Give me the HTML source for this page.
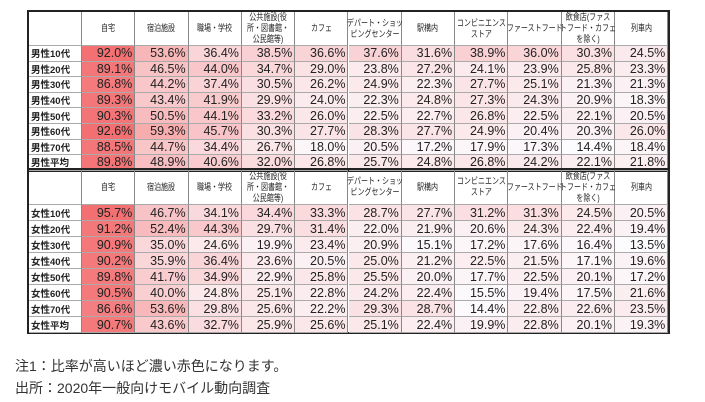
<!DOCTYPE html>
<html><head><meta charset="utf-8">
<style>
body{margin:0;width:705px;height:402px;background:#fff;font-family:"Liberation Sans","Noto Sans CJK JP",sans-serif;position:relative;overflow:hidden}
.tbl{position:absolute;left:27px;border:2px solid #222;box-sizing:border-box}
.cell{position:absolute;box-sizing:border-box;border-right:1px solid #888;border-bottom:1px solid #aaa;font-size:12.5px;color:#222}
.hd{font-size:9px;text-align:center;display:flex;align-items:center;justify-content:center;line-height:11px;color:#222;white-space:nowrap;overflow:visible}
.hd span{display:inline-block;transform:scaleX(0.78)}
.lab{font-weight:bold;font-size:9.5px;padding-left:2px;display:flex;align-items:center}
.val{text-align:right;padding-right:2px;display:flex;align-items:center;justify-content:flex-end}
.note{position:absolute;left:15px;font-size:14px;color:#333}
</style></head><body>
<div id="root"></div>
<div class="note" style="top:356px">注1：比率が高いほど濃い赤色になります。</div>
<div class="note" style="top:378px">出所：2020年一般向けモバイル動向調査</div>
<script>
const categories=["自宅","宿泊施設","職場・学校","公共施設(役<br>所・図書館・<br>公民館等)","カフェ","デパート・ショッ<br>ピングセンター","駅構内","コンビニエンス<br>ストア","ファーストフード","飲食店(ファス<br>トフード・カフェ<br>を除く)","列車内"];
const maleLabels=["男性10代","男性20代","男性30代","男性40代","男性50代","男性60代","男性70代","男性平均"];
const femaleLabels=["女性10代","女性20代","女性30代","女性40代","女性50代","女性60代","女性70代","女性平均"];
const maleValues=[
[92.0,53.6,36.4,38.5,36.6,37.6,31.6,38.9,36.0,30.3,24.5],
[89.1,46.5,44.0,34.7,29.0,23.8,27.2,24.1,23.9,25.8,23.3],
[86.8,44.2,37.4,30.5,26.2,24.9,22.3,27.7,25.1,21.3,21.3],
[89.3,43.4,41.9,29.9,24.0,22.3,24.8,27.3,24.3,20.9,18.3],
[90.3,50.5,44.1,33.2,26.0,22.5,22.7,26.8,22.5,22.1,20.5],
[92.6,59.3,45.7,30.3,27.7,28.3,27.7,24.9,20.4,20.3,26.0],
[88.5,44.7,34.4,26.7,18.0,20.5,17.2,17.9,17.3,14.4,18.4],
[89.8,48.9,40.6,32.0,26.8,25.7,24.8,26.8,24.2,22.1,21.8]];
const femaleValues=[
[95.7,46.7,34.1,34.4,33.3,28.7,27.7,31.2,31.3,24.5,20.5],
[91.2,52.4,44.3,29.7,31.4,22.0,21.9,20.6,24.3,22.4,19.4],
[90.9,35.0,24.6,19.9,23.4,20.9,15.1,17.2,17.6,16.4,13.5],
[90.2,35.9,36.4,23.6,20.5,25.0,21.2,22.5,21.5,17.1,19.6],
[89.8,41.7,34.9,22.9,25.8,25.5,20.0,17.7,22.5,20.1,17.2],
[90.5,40.0,24.8,25.1,22.8,24.2,22.4,15.5,19.4,17.5,21.6],
[86.6,53.6,29.8,25.6,22.2,29.3,28.7,14.4,22.8,22.6,23.5],
[90.7,43.6,32.7,25.9,25.6,25.1,22.4,19.9,22.8,20.1,19.3]];
const root=document.getElementById('root');
const labW=53,colW=53.3;
function color(v,mn,mx){const t=(v-mn)/(mx-mn);
 const r=Math.round(252+(243-252)*t),g=Math.round(252+(112-252)*t),b=Math.round(255+(114-255)*t);return `rgb(${r},${g},${b})`;}
function build(top,hh,rh,labels,vals,name){
 const t=document.createElement('div');t.className='tbl';
 
 
 const W=labW+colW*11+4,H=hh+rh*8+3;
 t.style.top=top+'px';t.style.width=W+'px';t.style.height=H+'px';
 root.appendChild(t);
 const flat=vals.flat();const mn=Math.min(...flat),mx=Math.max(...flat);
 function add(x,y,w,h,cls,html,bg,nm){const c=document.createElement('div');c.className='cell '+cls;
  c.style.left=x+'px';c.style.top=y+'px';c.style.width=w+'px';c.style.height=h+'px';c.innerHTML=html;if(bg)c.style.background=bg;
  
  
  t.appendChild(c);}
 add(0,0,labW,hh,'hd','',null,'corner-cell');
 categories.forEach((c,j)=>add(labW+j*colW,0,colW,hh,'hd','<span>'+c+'</span>',null,'column-header'));
 labels.forEach((l,i)=>{
  add(0,hh+i*rh,labW,rh,'lab',l,null,'row-label');
  vals[i].forEach((v,j)=>add(labW+j*colW,hh+i*rh,colW,rh,'val',v.toFixed(1)+'%',color(v,mn,mx),'heatmap-cell'));
 });
}
build(10,34,15.6,maleLabels,maleValues,'male-table');
build(168,35,16,femaleLabels,femaleValues,'female-table');
</script>
</body></html>
